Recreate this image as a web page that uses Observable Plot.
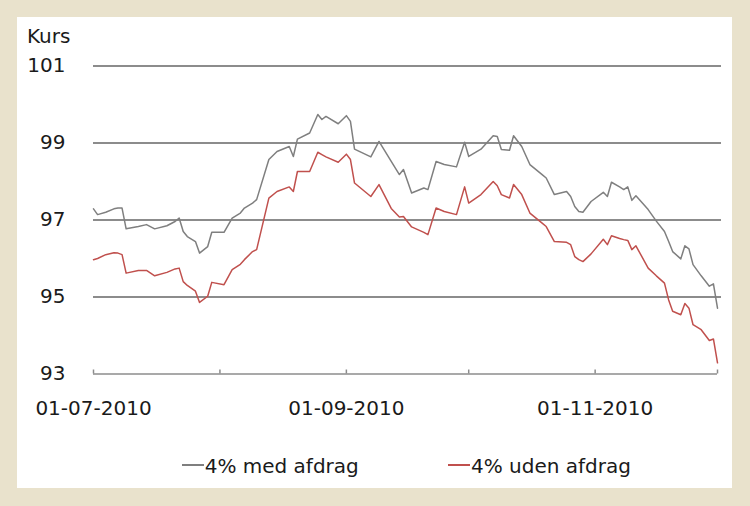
<!DOCTYPE html>
<html><head><meta charset="utf-8">
<script src="https://cdn.jsdelivr.net/npm/d3@7"></script>
<script src="https://cdn.jsdelivr.net/npm/@observablehq/plot@0.6"></script>
<style>
body{margin:0;background:#e9e2cc;width:750px;height:506px;overflow:hidden;font-family:"DejaVu Sans",Verdana,sans-serif;}
#panel{position:absolute;left:17px;top:17px;width:715px;height:471px;background:#fff;}
#kurs{position:absolute;left:10px;top:7px;font-size:20px;line-height:24px;color:#1a1a1a;}
#chart{position:absolute;left:0;top:31px;}
#legend{position:absolute;left:0;top:436.8px;width:715px;height:24px;font-size:20px;line-height:24px;color:#1a1a1a;}
.item{position:absolute;top:0;white-space:nowrap;}
.sw{display:inline-block;width:22px;height:1.5px;vertical-align:7px;margin-right:1px;}
</style>
</head><body>
<div id="panel">
  <div id="kurs">Kurs</div>
  <div id="chart"></div>
  <div id="legend"></div>
</div>
<script>
const dates = ["2010-07-01","2010-07-02","2010-07-04","2010-07-06","2010-07-07","2010-07-08","2010-07-09","2010-07-12","2010-07-14","2010-07-16","2010-07-19","2010-07-21","2010-07-22","2010-07-23","2010-07-24","2010-07-26","2010-07-27","2010-07-29","2010-07-30","2010-08-02","2010-08-04","2010-08-06","2010-08-07","2010-08-09","2010-08-10","2010-08-13","2010-08-15","2010-08-18","2010-08-19","2010-08-20","2010-08-23","2010-08-25","2010-08-26","2010-08-27","2010-08-30","2010-09-01","2010-09-02","2010-09-03","2010-09-07","2010-09-09","2010-09-12","2010-09-14","2010-09-15","2010-09-17","2010-09-20","2010-09-21","2010-09-23","2010-09-25","2010-09-28","2010-09-30","2010-10-01","2010-10-04","2010-10-07","2010-10-08","2010-10-09","2010-10-11","2010-10-12","2010-10-14","2010-10-16","2010-10-19","2010-10-20","2010-10-22","2010-10-25","2010-10-26","2010-10-27","2010-10-28","2010-10-29","2010-10-31","2010-11-03","2010-11-04","2010-11-05","2010-11-07","2010-11-08","2010-11-09","2010-11-10","2010-11-11","2010-11-14","2010-11-16","2010-11-18","2010-11-19","2010-11-20","2010-11-22","2010-11-23","2010-11-24","2010-11-25","2010-11-27","2010-11-29","2010-11-30","2010-12-01"];
const med = [97.29,97.14,97.20,97.29,97.31,97.31,96.77,96.83,96.88,96.77,96.85,96.96,97.05,96.70,96.57,96.44,96.14,96.31,96.68,96.68,97.05,97.18,97.31,97.44,97.53,98.57,98.78,98.91,98.65,99.10,99.26,99.74,99.61,99.69,99.50,99.71,99.56,98.84,98.64,99.04,98.52,98.18,98.31,97.70,97.83,97.79,98.52,98.44,98.38,99.02,98.65,98.84,99.19,99.17,98.83,98.81,99.19,98.91,98.44,98.18,98.09,97.66,97.74,97.61,97.35,97.22,97.20,97.48,97.72,97.61,97.98,97.86,97.79,97.86,97.51,97.63,97.27,96.97,96.70,96.45,96.18,95.99,96.33,96.25,95.84,95.55,95.28,95.34,94.71];
const uden = [95.97,96.00,96.10,96.15,96.14,96.10,95.62,95.69,95.69,95.55,95.64,95.73,95.75,95.40,95.30,95.15,94.86,95.02,95.38,95.32,95.71,95.85,95.97,96.18,96.23,97.57,97.74,97.86,97.74,98.26,98.26,98.76,98.70,98.64,98.50,98.71,98.57,97.96,97.61,97.92,97.30,97.08,97.09,96.82,96.68,96.62,97.31,97.22,97.14,97.86,97.44,97.66,98.00,97.89,97.66,97.57,97.92,97.66,97.18,96.92,96.83,96.44,96.42,96.36,96.05,95.97,95.92,96.12,96.50,96.36,96.59,96.52,96.49,96.47,96.23,96.33,95.75,95.55,95.36,94.93,94.63,94.54,94.83,94.71,94.28,94.15,93.87,93.91,93.29];
const seriesNames = ["4% med afdrag","4% uden afdrag"];
const seriesColors = ["#7f7f7f","#c0504d"];
const yTicks = [93,95,97,99,101];
const gridValues = [95,97,99,101];
const tickDates = ["2010-07-01","2010-08-01","2010-09-01","2010-10-01","2010-11-01","2010-12-01"];
const labelDates = ["2010-07-01","2010-09-01","2010-11-01"];
const xStart = "2010-07-01", xEnd = "2010-12-01";

const parse = d3.utcParse("%Y-%m-%d");
const rows = dates.map((d,i)=>({date: parse(d), med: med[i], uden: uden[i]}));
const x0 = parse(xStart), x1 = parse(xEnd);

const plot = Plot.plot({
  width: 715, height: 400,
  marginLeft: 76, marginRight: 11, marginTop: 17.5, marginBottom: 74.5,
  style: {fontFamily: "'DejaVu Sans', Verdana, sans-serif", fontSize: "20px", color: "#1a1a1a", background: "transparent", overflow: "visible"},
  x: {type: "utc", domain: [x0, x1], insetRight: 4},
  y: {domain: [93, 101]},
  marks: [
    Plot.ruleY(gridValues, {y: d=>d, stroke: "#8c8c8c", strokeWidth: 2, strokeOpacity: 1}),
    Plot.ruleY([93], {y: d=>d, x1: () => x0, x2: () => x1, stroke: "#8c8c8c", strokeWidth: 1.6, strokeOpacity: 1}),
    Plot.tickX(tickDates.map(parse), {x: d=>d, stroke: "#8c8c8c", strokeWidth: 1.5, insetTop: 304, strokeOpacity: 1}),
    Plot.axisY(yTicks, {tickSize: 0, tickPadding: 28, label: null, fontSize: 20, fill: "#1a1a1a"}),
    Plot.axisX(labelDates.map(parse), {tickSize: 0, tickPadding: 26.3, tickFormat: d3.utcFormat("%d-%m-%Y"), label: null, fontSize: 20, fill: "#1a1a1a"}),
    Plot.line(rows, {x: "date", y: "med", stroke: seriesColors[0], strokeWidth: 1.5}),
    Plot.line(rows, {x: "date", y: "uden", stroke: seriesColors[1], strokeWidth: 1.5})
  ]
});
document.getElementById("chart").appendChild(plot);

const legendLeft = [164.7, 431];
const legend = document.getElementById("legend");
seriesNames.forEach((name, i) => {
  const item = document.createElement("span");
  item.className = "item";
  item.style.left = legendLeft[i] + "px";
  const sw = document.createElement("span");
  sw.className = "sw";
  sw.style.background = seriesColors[i];
  item.appendChild(sw);
  item.appendChild(document.createTextNode(name));
  legend.appendChild(item);
});
</script>
</body></html>
